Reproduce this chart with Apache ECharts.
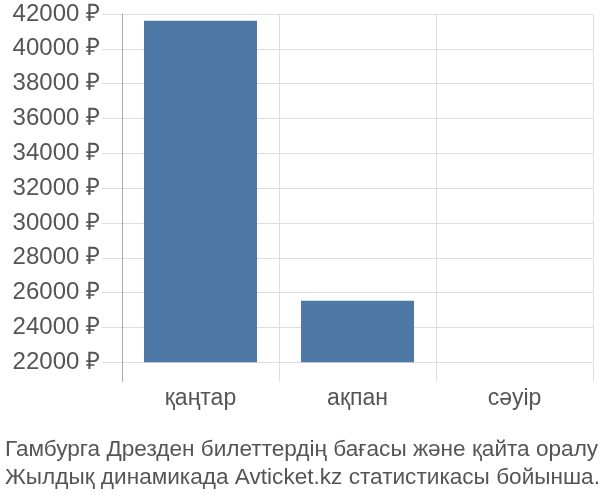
<!DOCTYPE html>
<html>
<head>
<meta charset="utf-8">
<script src="https://cdn.jsdelivr.net/npm/echarts@6/dist/echarts.min.js"></script>
<style>
html,body{margin:0;padding:0;background:#fff;}
#c{width:600px;height:500px;}
</style>
</head>
<body>
<div id="c"></div>
<script>
const categories = ['қаңтар', 'ақпан', 'сәуір'];
const prices = [41615, 25540, null];
const yMin = 22000, yMax = 42000, yStep = 2000;
const captionLines = ['Гамбурга Дрезден билеттердің бағасы және қайта оралу', 'Жылдық динамикада Avticket.kz статистикасы бойынша.'];

const font = 'Liberation Sans';
const chart = echarts.init(document.getElementById('c'));
chart.setOption({
  animation: false,
  backgroundColor: '#fff',
  grid: [
    {left: 122, right: 7, top: 14, height: 348.3},
    {left: 122, right: 7, top: 14, height: 367.5}
  ],
  title: {
    text: captionLines.join('\n'),
    left: 0, top: 431,
    textStyle: {fontFamily: font, fontSize: 22.6, fontWeight: 'normal', color: '#555', lineHeight: 28}
  },
  xAxis: [
    {type: 'category', gridIndex: 0, data: categories, show: false},
    {type: 'category', gridIndex: 1, data: categories,
      axisLine: {show: false}, axisTick: {show: false},
      axisLabel: {margin: 6, fontFamily: font, fontSize: 23, color: '#555'},
      splitLine: {show: true, lineStyle: {color: '#dddddd', width: 1}}}
  ],
  yAxis: [
    {type: 'value', gridIndex: 0, min: yMin, max: yMax, interval: yStep,
      axisLine: {show: false},
      axisTick: {show: true, length: 20, lineStyle: {color: '#dddddd'}},
      axisLabel: {margin: 22, fontFamily: font, fontSize: 24, color: '#555',
        formatter: v => v + ' ₽'},
      splitLine: {show: true, lineStyle: {color: '#dddddd', width: 1}}},
    {type: 'value', gridIndex: 1, min: 0, max: 1,
      axisLine: {show: true, lineStyle: {color: '#aaaaaa', width: 1}},
      axisTick: {show: false}, axisLabel: {show: false}, splitLine: {show: false}}
  ],
  series: [{
    type: 'bar', xAxisIndex: 0, yAxisIndex: 0,
    data: prices, barWidth: '72%',
    itemStyle: {color: '#4e79a7'}
  }]
});
</script>
</body>
</html>
